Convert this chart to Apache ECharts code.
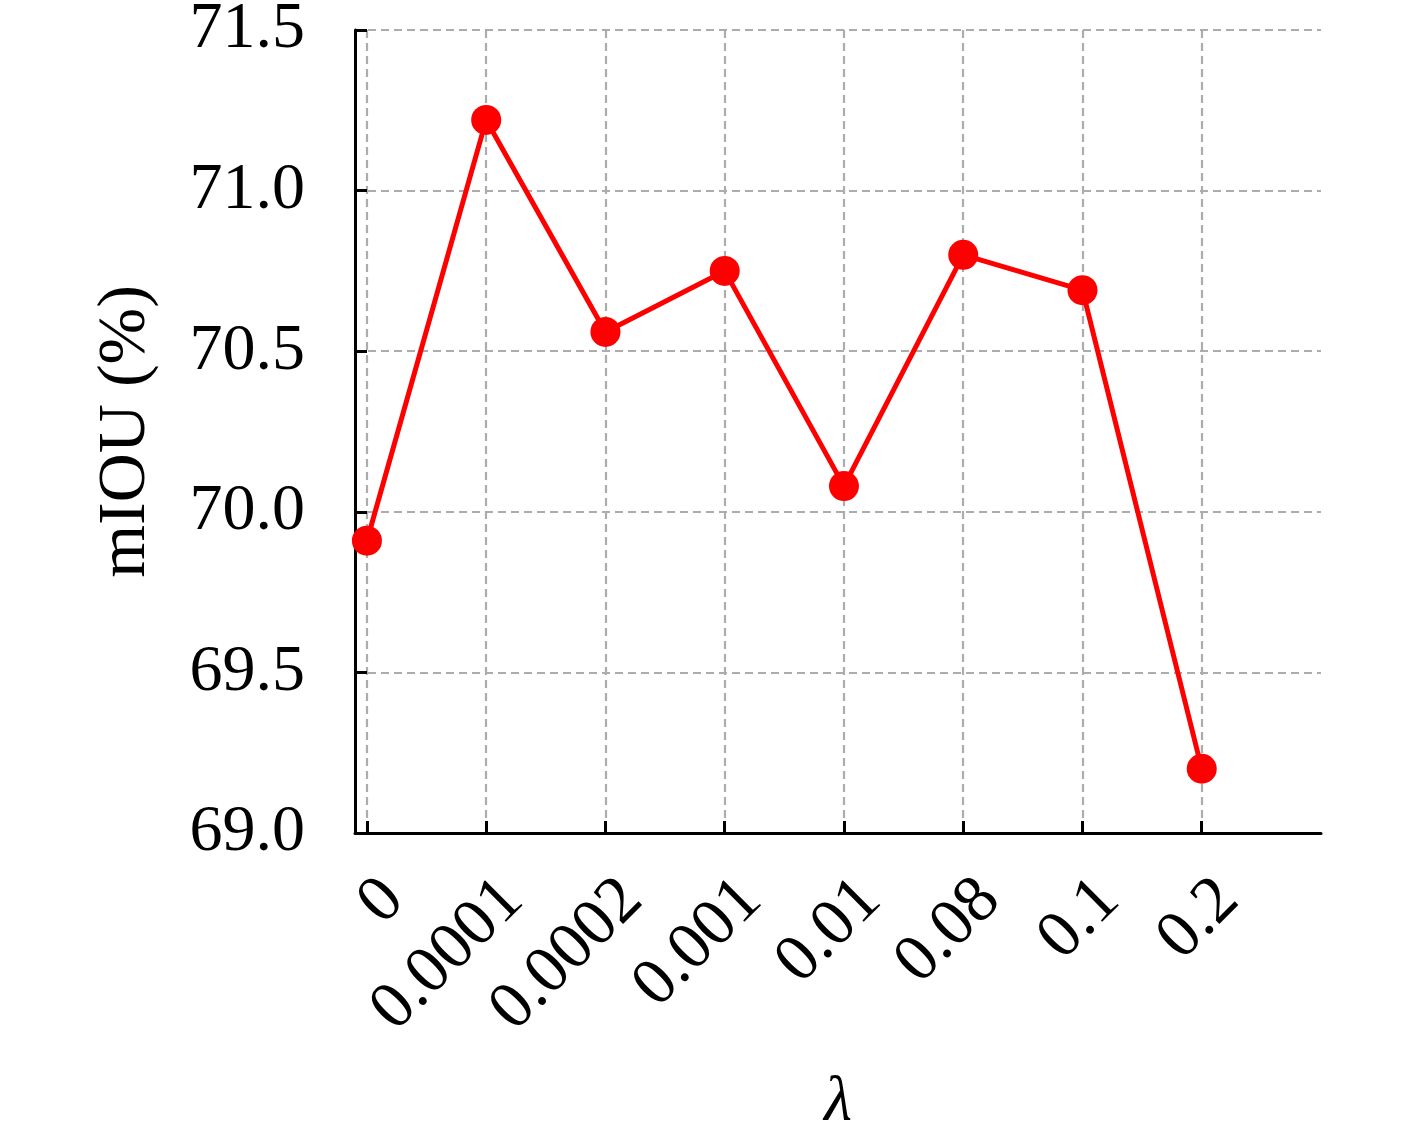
<!DOCTYPE html>
<html>
<head>
<meta charset="utf-8">
<script src="https://cdn.jsdelivr.net/npm/echarts@6/dist/echarts.min.js"></script>
<style>
html, body { margin: 0; padding: 0; background: #fff; }
#chart { width: 1417px; height: 1134px; }
</style>
</head>
<body>
<div id="chart"></div>
<script>
// lambda values shown on the x axis
var lambdas = ['0', '0.0001', '0.0002', '0.001', '0.01', '0.08', '0.1', '0.2'];
// mIOU (%) for each lambda
var miou = [69.91, 71.22, 70.56, 70.75, 70.08, 70.80, 70.69, 69.20];
var yTicks = [69.0, 69.5, 70.0, 70.5, 71.0, 71.5];

var positions = lambdas.map(function (l, i) { return i; });
var points = miou.map(function (v, i) { return [i, v]; });

var font = '"Liberation Serif", "DejaVu Serif", serif';
var gridLine = { show: true, lineStyle: { color: '#acacac', width: 2.2, type: [8, 5] } };

var myChart = echarts.init(document.getElementById('chart'));
var option = {
    animation: false,
    backgroundColor: '#fff',
    grid: { left: 355, right: 96, top: 30, bottom: 301, containLabel: false, outerBoundsMode: 'none' },
    xAxis: {
        type: 'value',
        min: -0.1,
        max: 8,
        name: 'λ',
        nameLocation: 'middle',
        nameGap: 238,
        nameTextStyle: { fontFamily: font, fontStyle: 'italic', fontSize: 64, color: '#000' },
        axisLine: { show: true, onZero: false, lineStyle: { color: '#000', width: 3 } },
        axisTick: { show: true, inside: true, length: 12, customValues: positions, lineStyle: { color: '#000', width: 3 } },
        axisLabel: {
            customValues: positions,
            rotate: 45,
            margin: 30,
            verticalAlign: 'top',
            lineHeight: 66,
            padding: [5, 0, 0, 0],
            fontFamily: font,
            fontSize: 67,
            color: '#000',
            formatter: function (v) { return lambdas[Math.round(v)]; }
        },
        splitLine: gridLine
    },
    yAxis: {
        type: 'value',
        min: yTicks[0],
        max: yTicks[yTicks.length - 1],
        interval: 0.5,
        name: 'mIOU (%)',
        nameLocation: 'middle',
        nameGap: 195,
        nameTextStyle: { fontFamily: font, fontSize: 68, color: '#000' },
        axisLine: { show: true, onZero: false, lineStyle: { color: '#000', width: 3 } },
        axisTick: { show: true, inside: true, length: 12, lineStyle: { color: '#000', width: 3 } },
        axisLabel: {
            margin: 50,
            fontFamily: font,
            fontSize: 66,
            color: '#000',
            formatter: function (v) { return v.toFixed(1); }
        },
        splitLine: gridLine
    },
    series: [{
        type: 'line',
        data: points,
        symbol: 'circle',
        symbolSize: 30,
        itemStyle: { color: '#ff0000' },
        lineStyle: { color: '#ff0000', width: 5 },
        z: 5
    }]
};
myChart.setOption(option);
</script>
</body>
</html>
